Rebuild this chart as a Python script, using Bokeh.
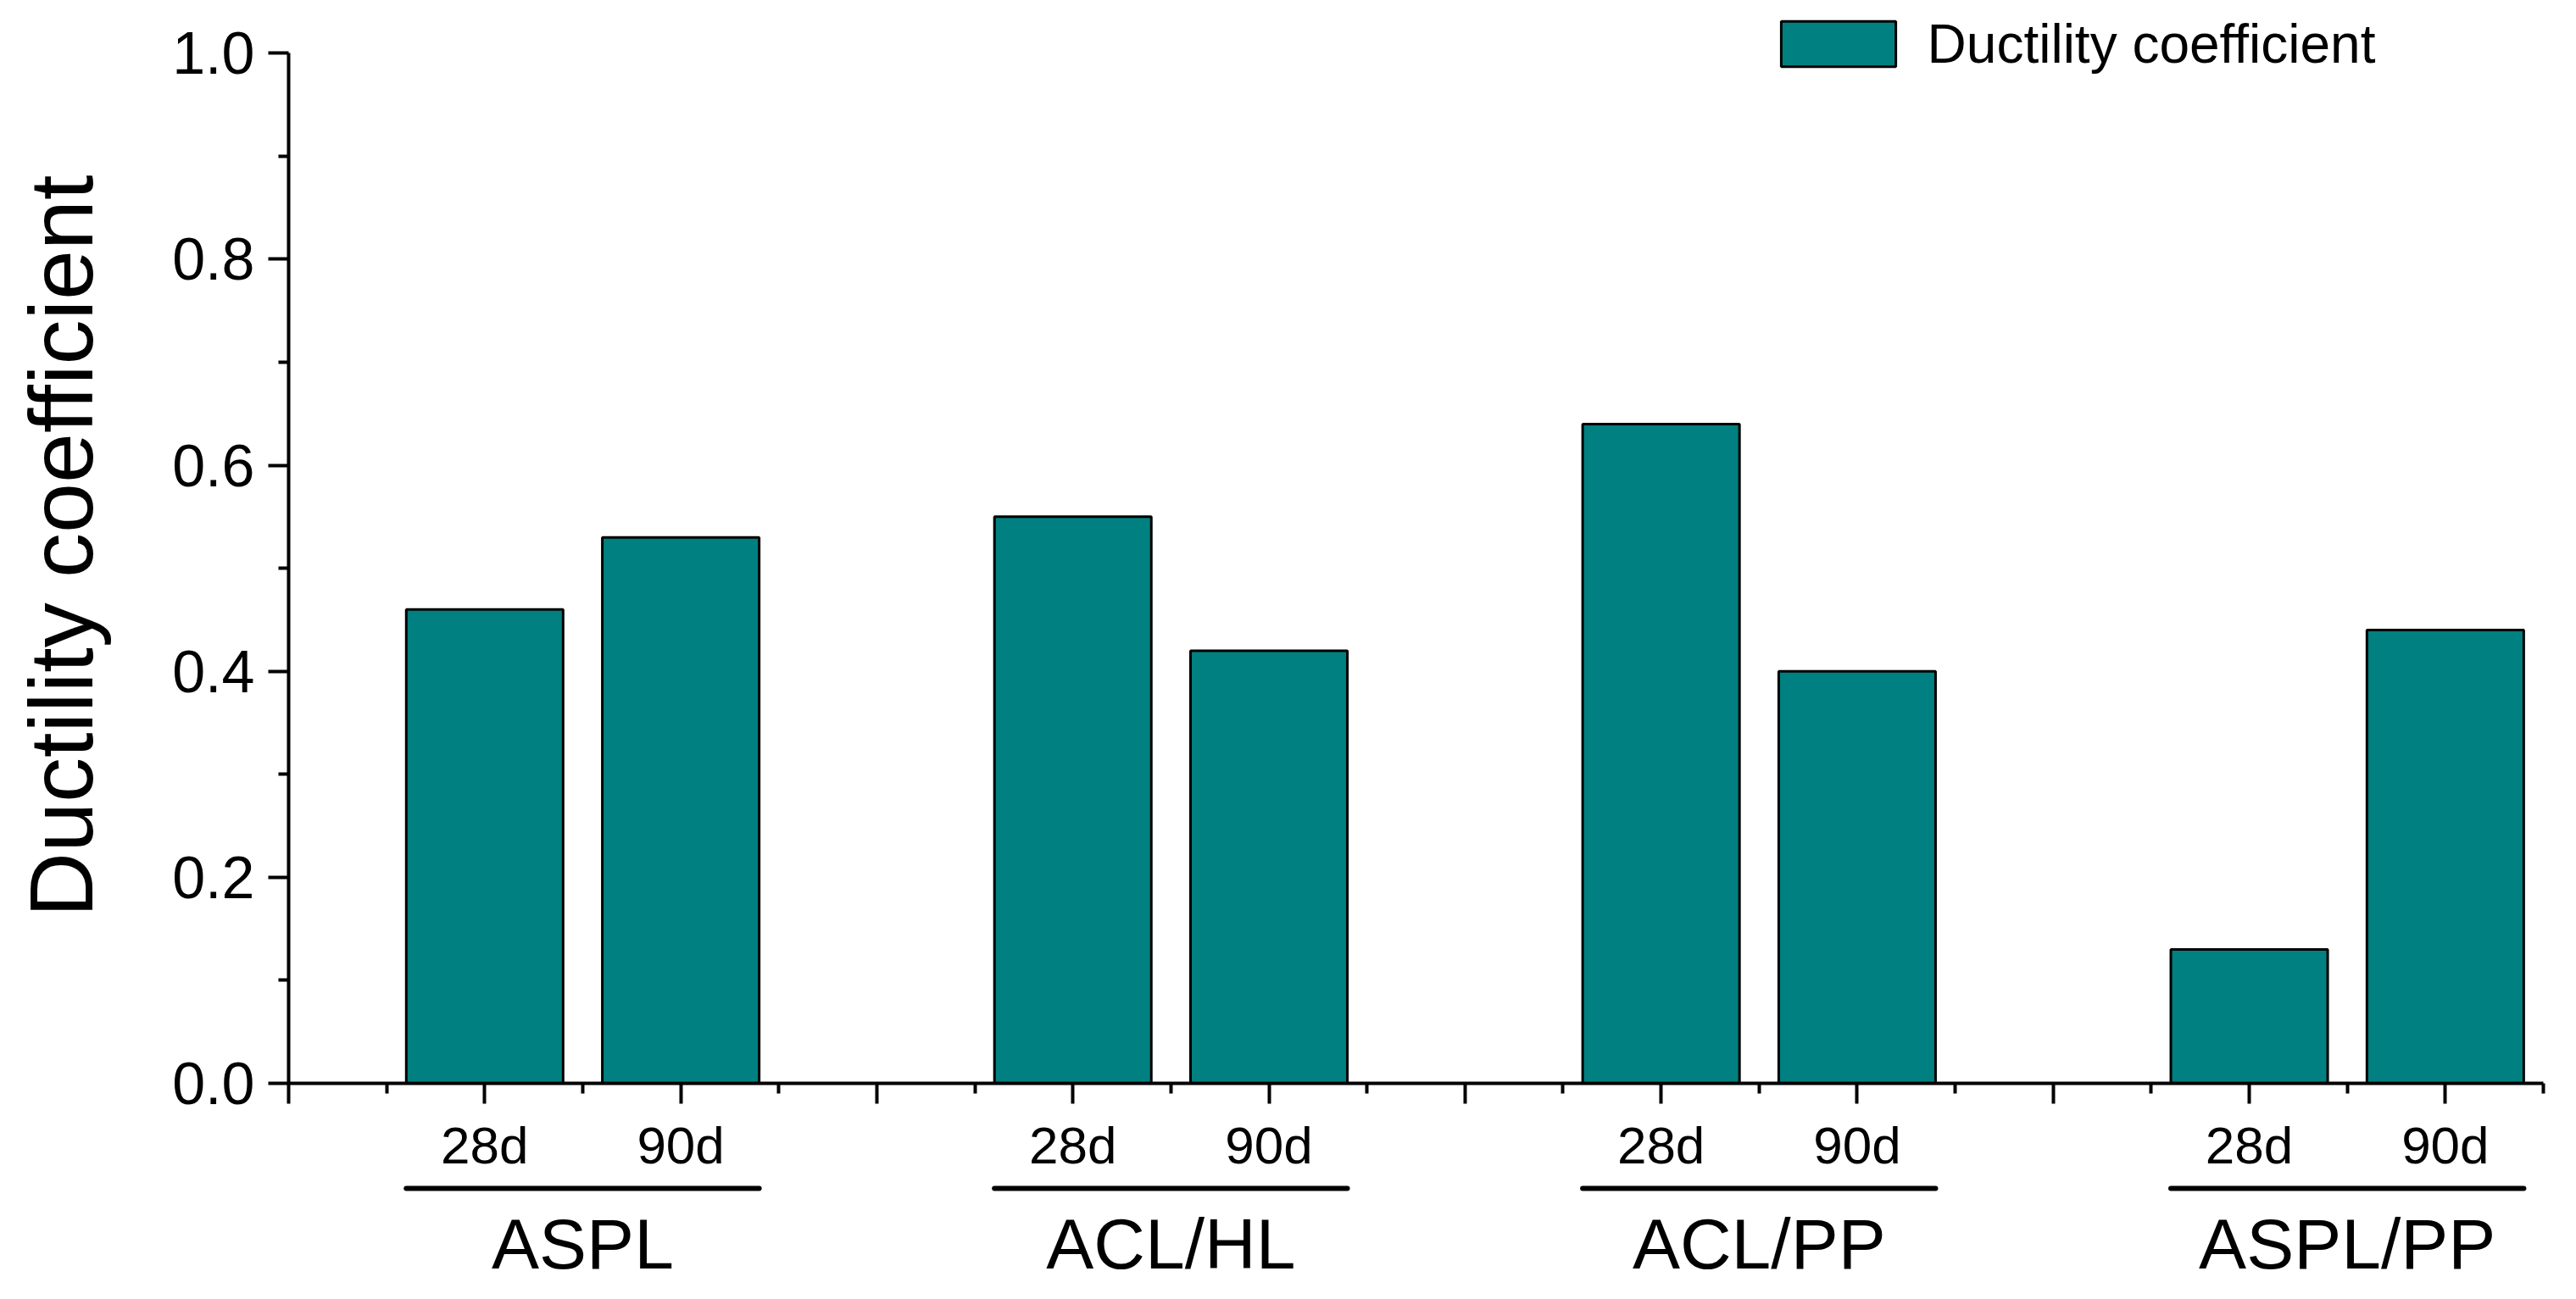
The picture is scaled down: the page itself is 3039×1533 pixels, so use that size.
from bokeh.plotting import figure
from bokeh.layouts import column
from bokeh.models import (Range1d, FixedTicker, ColumnDataSource,
                          Legend, LegendItem, PrintfTickFormatter)
from bokeh.core.properties import value
from bokeh.embed import file_html
from bokeh.resources import INLINE

# ---------------- data ----------------
groups = ["ASPL", "ACL/HL", "ACL/PP", "ASPL/PP"]
ages = ["28d", "90d"]
ductility = [0.46, 0.53, 0.55, 0.42, 0.64, 0.40, 0.13, 0.44]
y_ticks = [0.0, 0.2, 0.4, 0.6, 0.8, 1.0]
y_minor_ticks = [0.1, 0.3, 0.5, 0.7, 0.9]
series_name = "Ductility coefficient"
y_title = "Ductility coefficient"

# ---------------- layout constants (page pixels) ----------------
FONT = "Liberation Sans"
GROUP_STEP = 3
BAR_W = 0.8
TEAL = "#008080"
X_MAX = len(groups) * GROUP_STEP - 0.5

BORDER_L, BORDER_R = 340, 31
W = BORDER_L + 2660 + BORDER_R
FRAME_TOP = 10            # canvas px above the frame
AXIS_Y = 1278             # canvas px of the x axis (frame bottom)
Y_TOP_PX = 62.3           # canvas px where y = 1.0 sits
FRAME_H = AXIS_Y - FRAME_TOP
Y_END = FRAME_H / (AXIS_Y - Y_TOP_PX)
BELOW1 = 116              # space for tick labels under the axis
H1 = AXIS_Y + BELOW1
H2 = 1530 - H1
LINE_OFF = 124            # underline distance below axis (px)
NAME_OFF = 189            # group-name text anchor distance below axis (px)

x_pos, x_lab = [], []
for gi, g in enumerate(groups):
    for ai, a in enumerate(ages):
        x_pos.append(gi * GROUP_STEP + 1 + ai)
        x_lab.append(a)

major_x = list(range(0, int(X_MAX) + 1))
minor_x = [m + 0.5 for m in major_x]
overrides = {t: "" for t in major_x}
for xp, lab in zip(x_pos, x_lab):
    overrides[xp] = lab

p = figure(width=W, height=H1,
           x_range=Range1d(0, X_MAX), y_range=Range1d(0, Y_END),
           output_backend="svg", toolbar_location=None,
           min_border_left=BORDER_L, min_border_right=BORDER_R,
           min_border_top=FRAME_TOP, min_border_bottom=BELOW1)
p.outline_line_color = None
p.grid.visible = False
p.background_fill_color = "white"
p.border_fill_color = "white"

src = ColumnDataSource(dict(x=x_pos, top=ductility))
r = p.vbar(x="x", top="top", width=BAR_W, source=src,
           fill_color=TEAL, line_color="black", line_width=3)

# y axis
ya = p.yaxis[0]
ya.bounds = (y_ticks[0], y_ticks[-1])
ya.ticker = FixedTicker(ticks=y_ticks, minor_ticks=y_minor_ticks)
ya.formatter = PrintfTickFormatter(format="%.1f")
ya.major_tick_out = 24
ya.major_tick_in = 0
ya.minor_tick_out = 12
ya.minor_tick_in = 0
ya.axis_line_width = 4
ya.major_tick_line_width = 4
ya.minor_tick_line_width = 4
ya.major_label_standoff = 16
ya.major_label_text_font = FONT
ya.major_label_text_font_size = "70px"
ya.major_label_text_color = "black"
ya.axis_label = y_title
ya.axis_label_text_font = FONT
ya.axis_label_text_font_size = "106px"
ya.axis_label_text_font_style = "normal"
ya.axis_label_text_color = "black"
ya.axis_label_standoff = 69

# x axis
xa = p.xaxis[0]
xa.ticker = FixedTicker(ticks=major_x, minor_ticks=minor_x)
xa.major_label_overrides = overrides
xa.major_tick_out = 24
xa.major_tick_in = 0
xa.minor_tick_out = 12
xa.minor_tick_in = 0
xa.axis_line_width = 4
xa.major_tick_line_width = 4
xa.minor_tick_line_width = 4
xa.major_label_standoff = 14
xa.major_label_text_font = FONT
xa.major_label_text_font_size = "62px"
xa.major_label_text_color = "black"

# legend
legend = Legend(items=[LegendItem(label=series_name, renderers=[r])],
                location=(1743.6, 1189.5), padding=0, margin=0, spacing=0,
                glyph_width=169, glyph_height=67, label_standoff=21,
                label_text_font=FONT, label_text_font_size="64px",
                label_text_color="black",
                border_line_color=None, background_fill_alpha=0)
p.add_layout(legend)

# ---------------- group strip below the axis ----------------
p2 = figure(width=W, height=H2, x_range=p.x_range,
            y_range=Range1d(-(BELOW1 + H2), -BELOW1),
            output_backend="svg", toolbar_location=None,
            x_axis_type=None, y_axis_type=None,
            min_border_left=BORDER_L, min_border_right=BORDER_R,
            min_border_top=0, min_border_bottom=0)
p2.outline_line_color = None
p2.grid.visible = False
p2.background_fill_color = "white"
p2.border_fill_color = "white"

g_lower = [gi * GROUP_STEP + 1 - BAR_W / 2 for gi in range(len(groups))]
g_upper = [gi * GROUP_STEP + len(ages) + BAR_W / 2 for gi in range(len(groups))]
g_center = [(lo + up) / 2 for lo, up in zip(g_lower, g_upper)]
gsrc = ColumnDataSource(dict(lower=g_lower, upper=g_upper, center=g_center,
                             ly=[-LINE_OFF] * len(groups),
                             ty=[-NAME_OFF] * len(groups), label=groups))
p2.segment(x0="lower", y0="ly", x1="upper", y1="ly", source=gsrc,
           line_width=6, line_color="black", line_cap="round")
p2.text(x="center", y="ty", text="label", source=gsrc,
        text_align="center", text_baseline="alphabetic",
        text_font=value(FONT), text_font_size="84px", text_color="black")

layout = column(p, p2, spacing=0)
open("out.html", "w").write(file_html(layout, INLINE))
